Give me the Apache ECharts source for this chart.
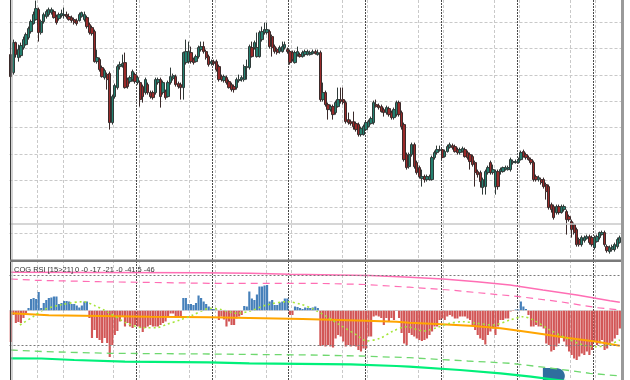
<!DOCTYPE html>
<html><head><meta charset="utf-8">
<script src="https://cdn.jsdelivr.net/npm/echarts@6/dist/echarts.min.js"></script>
<style>html,body{margin:0;padding:0;background:#fff}#c{width:630px;height:380px}</style>
</head><body><div id="c"></div>
<script>
// ---- price pane: [open, close, low, high] ----
const candles = [
[205,183,181,207],[187,217,185,220],[217,205,202,218],[202,210,198,215],[204,214,202,217],
[212,220,210,223],[215,225,214,227],[222,231,220,233],[228,238,226,240],[236,245,235,248],
[240,251,239,259],[250,227,218,252],[227,238,225,240],[238,245,236,247],[243,248,241,250],
[245,250,243,252],[247,250,245,252],[248,242,241,250],[243,237,235,245],[241,245,239,247],
[244,246,242,250],[244,245,241,252],[245,243,241,248],[243,240,239,246],[242,239,237,244],
[240,237,235,242],[239,236,234,241],[239,245,238,247],[243,247,242,248],[240,245,238,248],
[242,233,231,244],[235,227,225,237],[232,226,224,234],[228,198,197,230],[198,202,196,210],
[200,190,188,202],[192,183,182,194],[182,189,180,191],[185,180,170,187],[186,137,130,188],
[137,163,135,165],[163,174,161,176],[172,193,170,195],[193,195,190,198],[194,196,192,205],
[197,172,171,207],[180,173,171,182],[178,182,176,184],[180,188,178,190],[185,178,176,187],
[177,182,175,184],[177,160,153,179],[173,163,157,175],[167,180,165,182],[175,167,165,177],
[167,163,161,169],[167,162,160,169],[167,180,165,182],[177,180,175,182],[180,163,152,182],
[167,177,165,179],[168,162,160,170],[163,177,162,179],[177,183,175,192],[181,184,179,186],
[183,175,173,185],[176,173,171,178],[175,172,160,177],[172,207,160,208],[197,208,195,220],
[198,208,196,218],[207,198,196,213],[200,197,195,202],[198,203,197,205],[203,212,201,214],
[210,213,208,218],[213,208,206,218],[208,202,200,210],[203,195,193,205],[196,198,194,200],
[198,196,194,200],[198,190,188,200],[193,180,178,195],[183,180,178,185],[179,183,177,185],
[182,177,175,184],[178,172,171,180],[175,170,168,177],[173,170,167,175],[172,180,170,182],
[179,180,177,185],[180,182,178,184],[180,193,178,195],[192,193,180,200],[192,213,190,215],
[212,203,202,218],[212,217,210,219],[203,212,202,227],[203,227,202,229],[220,228,218,233],
[227,230,225,237],[227,230,225,237],[228,213,211,230],[223,212,203,225],[213,208,206,215],
[210,207,205,212],[208,212,206,214],[208,213,207,218],[212,215,210,218],[210,208,206,212],
[208,197,195,210],[207,200,198,209],[197,207,196,209],[205,208,203,213],[205,203,202,207],
[203,207,202,209],[205,208,203,210],[205,208,204,210],[205,207,204,209],[206,208,205,210],
[208,206,205,210],[205,207,204,210],[207,160,158,209],[160,167,158,177],[167,155,153,169],
[155,150,140,157],[150,153,148,155],[153,145,140,155],[147,157,145,159],[153,160,152,172],
[160,158,156,172],[160,157,155,172],[157,138,136,159],[140,137,135,147],[138,136,134,140],
[138,133,130,148],[136,130,128,138],[135,125,123,137],[125,131,123,133],[125,133,124,135],
[130,137,129,139],[133,138,132,140],[136,141,135,143],[137,157,135,159],[155,153,152,160],
[154,152,150,156],[153,148,147,155],[150,147,143,152],[147,152,145,154],[151,145,143,153],
[147,142,140,149],[142,150,140,152],[145,157,143,159],[157,145,143,159],[147,133,130,149],
[135,100,98,137],[105,92,90,107],[93,105,91,107],[105,115,103,117],[115,93,91,117],
[97,87,85,99],[92,83,81,94],[81,83,73,90],[83,80,77,85],[80,83,78,85],
[80,83,79,85],[80,102,79,104],[102,107,100,109],[107,110,105,114],[109,110,108,114],
[110,102,100,112],[103,108,102,110],[108,113,107,115],[112,115,111,117],[114,112,110,116],
[113,108,107,115],[110,107,105,112],[107,110,105,112],[108,111,107,113],[110,103,102,112],
[107,102,100,109],[105,98,90,107],[103,95,93,105],[97,87,73,99],[88,85,82,90],
[87,78,72,89],[72,80,65,82],[73,88,65,90],[87,92,85,94],[97,87,85,99],
[87,90,85,95],[73,88,65,90],[88,73,70,90],[88,90,85,92],[88,92,87,93],
[90,92,89,94],[90,92,89,94],[90,100,88,102],[97,98,95,100],[97,98,96,100],
[97,100,96,102],[100,107,99,109],[108,103,102,110],[105,102,100,107],[102,100,99,104],
[100,97,95,102],[97,80,78,99],[83,80,78,85],[80,82,78,84],[80,77,75,82],
[80,73,71,82],[75,68,60,77],[73,52,50,75],[55,50,47,57],[53,42,40,55],
[47,53,45,55],[53,47,45,55],[47,53,46,55],[50,53,48,55],[48,40,25,50],
[43,40,38,45],[38,30,22,40],[35,27,25,37],[30,15,13,32],[20,15,13,22],
[15,22,13,24],[19,22,17,24],[21,23,20,25],[23,17,15,25],[22,15,13,24],
[12,22,10,24],[18,23,17,25],[22,27,20,28],[25,27,24,29],[27,15,13,29],
[13,9,7,15],[8,12,6,14],[10,13,8,15],[10,15,8,17],[13,20,11,22],
[17,22,16,24]
];
const priceLevel = 36.3;

// ---- indicator pane ----
const hist = [
-63,-9,-25,-23,-25,-15,-5,5,23,25,23,37,5,15,21,25,26,28,28,13,
15,19,19,18,13,13,10,6,10,18,18,-15,-55,-39,-55,-59,-65,-55,-65,-93,
-69,-49,-41,-22,-12,-32,-25,-32,-35,-29,-32,-35,-43,-35,-32,-29,-32,-32,-32,-29,
-25,-22,-12,-6,-6,-12,-15,-15,25,25,13,13,11,15,30,25,18,13,8,3,
3,2,-19,-12,-18,-32,-22,-29,-29,-16,-12,-9,9,8,38,24,21,32,48,48,
50,51,18,21,11,11,16,18,24,24,-9,-9,8,7,5,3,6,5,5,6,
8,5,-71,-69,-72,-69,-72,-74,-56,-49,-52,-62,-72,-69,-72,-71,-72,-79,-82,-76,
-76,-52,-52,-12,-10,-12,-15,-29,-15,-22,-15,-19,1,-15,-45,-66,-69,-45,-49,-52,
-56,-59,-61,-59,-56,-49,-42,-32,-32,-19,-16,-19,-12,-9,-12,-16,-16,-12,-12,-12,
-16,-19,-29,-39,-49,-56,-59,-68,-49,-42,-36,-49,-32,-19,-19,-16,-16,-2,-1,2,
2,18,8,3,-9,-32,-32,-29,-32,-32,-36,-66,-69,-82,-79,-72,-66,-52,-62,-72,
-82,-89,-96,-99,-92,-86,-89,-82,-89,-79,-62,-69,-66,-59,-79,-76,-69,-62,-56,-49,
-36
];
const levels = [70, -70];
const zeroLevel = 0;
// [bar index, value]
const orangeLine = [[0,-5.6],[15,-9.6],[35,-11],[55,-12.4],[78,-13.6],[94,-15],[115,-17],[140,-20.4],[152,-22.4],[157,-24.4],[168,-27],[181,-30.4],[193,-35.6],[201,-41],[210,-47.6],[219,-54.4],[231,-62.4],[240,-70.4]];
const signalLine = [[3.6,-29],[8.8,-12.4],[12.7,1],[19.4,11],[28.5,17.6],[33.2,9.6],[39.1,-5.6],[45.8,-25.6],[52.1,-34.4],[57.6,-34.4],[61.5,-27.6],[66.7,-19],[71.8,-9],[78.5,4.4],[82.4,2.4],[89,-5.6],[94.3,-1],[100.8,11],[108.7,17.6],[114,13],[119.2,3],[124.5,-12.4],[129.7,-29],[136.3,-49],[140.2,-61],[145.5,-55.6],[150.7,-41],[156,-32.4],[162.5,-41],[167.8,-34.4],[173,-25.6],[178.3,-22.4],[183.6,-25.6],[190.1,-29],[196.7,-19],[201.9,-12.4],[205.9,-19],[212.5,-39],[219,-55.6],[225.6,-69],[230.9,-72.4],[236.1,-67.6],[240,-59]];
const pinkSolid = [[0,76.4],[74.6,75.6],[94.3,74.4],[110,72.4],[141.5,70],[157.3,66.6],[170.3,63],[183.7,57.6],[196.7,51],[209.7,41],[223.1,31],[236.1,19.6],[240,16.4]];
const pinkDashed = [[0,63],[10,60.4],[35,57.6],[78,54.4],[120,54.4],[140,52],[157,46.6],[173,41],[200.6,27.6],[216.4,17.6],[231,5.6],[240,1]];
const greenDashed = [[0,-79],[14,-82.4],[39,-85.6],[78,-87],[118,-89],[137.6,-91],[157,-94.4],[180,-101],[197,-105.6],[213.6,-115.6],[228.2,-125.6],[240,-131]];
const greenSolid = [[0,-95.6],[12,-96],[25,-99],[45,-102.4],[78,-103.6],[94,-105.6],[134,-107.6],[152,-111],[157,-112.4],[177,-119],[193,-125.6],[205,-132.4],[214,-138],[240,-155]];
const marker = [[214,-131]];
const labelText = 'COG RSI [15>21] 0 -0 -17 -21 -0 -41 5 -46';

// ---- build chart ----
const n = candles.length;
const cats = candles.map((_, i) => String(i));
const LIGHT = '#c9c9c9', DARK = '#4a4a4a';
const BLUE = '#4680ba', RED = '#d25656';
const hidden = {show:false};
const gridOnly = (lineStyle, extra) => Object.assign({
  axisLine: hidden, axisTick: hidden, axisLabel: hidden,
  splitLine: {show: true, showMinLine: false, showMaxLine: false, lineStyle: lineStyle}
}, extra);

const chart = echarts.init(document.getElementById('c'), null, {renderer: 'canvas'});
chart.setOption({
  animation: false,
  backgroundColor: '#ffffff',
  grid: [
    {left: 9.5, width: 611.6, top: 0, height: 259.6},
    {left: 9.5, width: 611.6, top: 262, height: 118},
    {left: 12, width: 609, top: 0, height: 380},
    {left: 60.3, width: 560.7, top: 0, height: 380}
  ],
  xAxis: [
    {type: 'category', gridIndex: 0, data: cats, show: false},
    {type: 'category', gridIndex: 1, data: cats, show: false},
    {type: 'value', gridIndex: 1, min: -0.5, max: n - 0.5, show: false},
    gridOnly({color: [LIGHT, LIGHT, 'rgba(0,0,0,0)'], type: [3, 2], width: 1},
      {type: 'value', gridIndex: 2, min: 0, max: 609, interval: 25.38}),
    gridOnly({color: DARK, type: [2, 1], width: 1},
      {type: 'value', gridIndex: 3, min: 0, max: 560.7, interval: 76.14})
  ],
  yAxis: [
    gridOnly({color: LIGHT, type: [3, 2], width: 1},
      {type: 'value', gridIndex: 0, min: 0, max: 259.6, interval: 26.4}),
    {type: 'value', gridIndex: 1, min: -139, max: 97, show: false},
    {type: 'value', gridIndex: 2, min: 0, max: 1, show: false},
    {type: 'value', gridIndex: 3, min: 0, max: 1, show: false}
  ],
  series: [
    {
      type: 'candlestick', xAxisIndex: 0, yAxisIndex: 0, data: candles,
      barWidth: 2.8,
      itemStyle: {color: '#24806f', color0: '#9a2a2a', borderColor: '#2f3a38', borderColor0: '#3a2a2a', borderWidth: 1},
      markLine: {silent: true, symbol: 'none', label: {show: false},
        lineStyle: {color: '#c8c8c8', type: 'solid', width: 1.5},
        data: [{yAxis: priceLevel}]}
    },
    {
      type: 'bar', xAxisIndex: 1, yAxisIndex: 1, barWidth: '85%',
      data: hist.map(v => ({value: v, itemStyle: {color: v >= 0 ? BLUE : RED}})),
      markLine: {silent: true, symbol: 'none', label: {show: false},
        data: [
          {yAxis: zeroLevel, lineStyle: {color: LIGHT, type: [3, 2], width: 1}},
          ...levels.map(l => ({yAxis: l, lineStyle: {color: '#7a7a7a', type: [2, 2], width: 1}}))
        ]}
    },
    {type: 'line', xAxisIndex: 2, yAxisIndex: 1, data: pinkSolid, symbol: 'none', lineStyle: {color: '#ff6eb4', width: 1.5}},
    {type: 'line', xAxisIndex: 2, yAxisIndex: 1, data: pinkDashed, symbol: 'none', lineStyle: {color: '#ff6eb4', width: 1.2, type: [7, 5]}},
    {type: 'line', xAxisIndex: 2, yAxisIndex: 1, data: orangeLine, symbol: 'none', lineStyle: {color: '#ffa500', width: 2}},
    {type: 'line', xAxisIndex: 2, yAxisIndex: 1, data: signalLine, symbol: 'none', smooth: 0.3, lineStyle: {color: '#a6e63a', width: 1.6, type: [2, 3]}},
    {type: 'line', xAxisIndex: 2, yAxisIndex: 1, data: greenDashed, symbol: 'none', lineStyle: {color: '#6fd86f', width: 1.3, type: [7, 5]}},
    {type: 'line', xAxisIndex: 2, yAxisIndex: 1, data: greenSolid, symbol: 'none', lineStyle: {color: '#00f07a', width: 2.2}},
    {type: 'scatter', xAxisIndex: 2, yAxisIndex: 1, data: marker, silent: true, clip: false,
      symbol: 'path://M0,0H12C16.4,0 20,3.6 20,8C20,12.4 16.4,16 12,16H0Z', symbolSize: [22, 16],
      itemStyle: {color: '#2f6e9e', opacity: 1}}
  ],
  graphic: [
    {type: 'rect', left: 10, top: 0, shape: {width: 1, height: 380}, style: {fill: '#3c3c3c'}, z: 100},
    {type: 'rect', left: 11.5, top: 0, shape: {width: 1, height: 380}, style: {fill: '#a8a8a8'}, z: 100},
    {type: 'rect', left: 621, top: 0, shape: {width: 3, height: 380}, style: {fill: '#9a9a9a'}, z: 100},
    {type: 'rect', left: 10, top: 259.5, shape: {width: 611, height: 2.5}, style: {fill: '#7a7a7a'}, z: 100},
    {type: 'text', left: 14, top: 266, z: 100,
      style: {text: labelText, fill: '#333', font: '7.5px "Liberation Sans", Arial, sans-serif'}}
  ]
});
</script></body></html>
